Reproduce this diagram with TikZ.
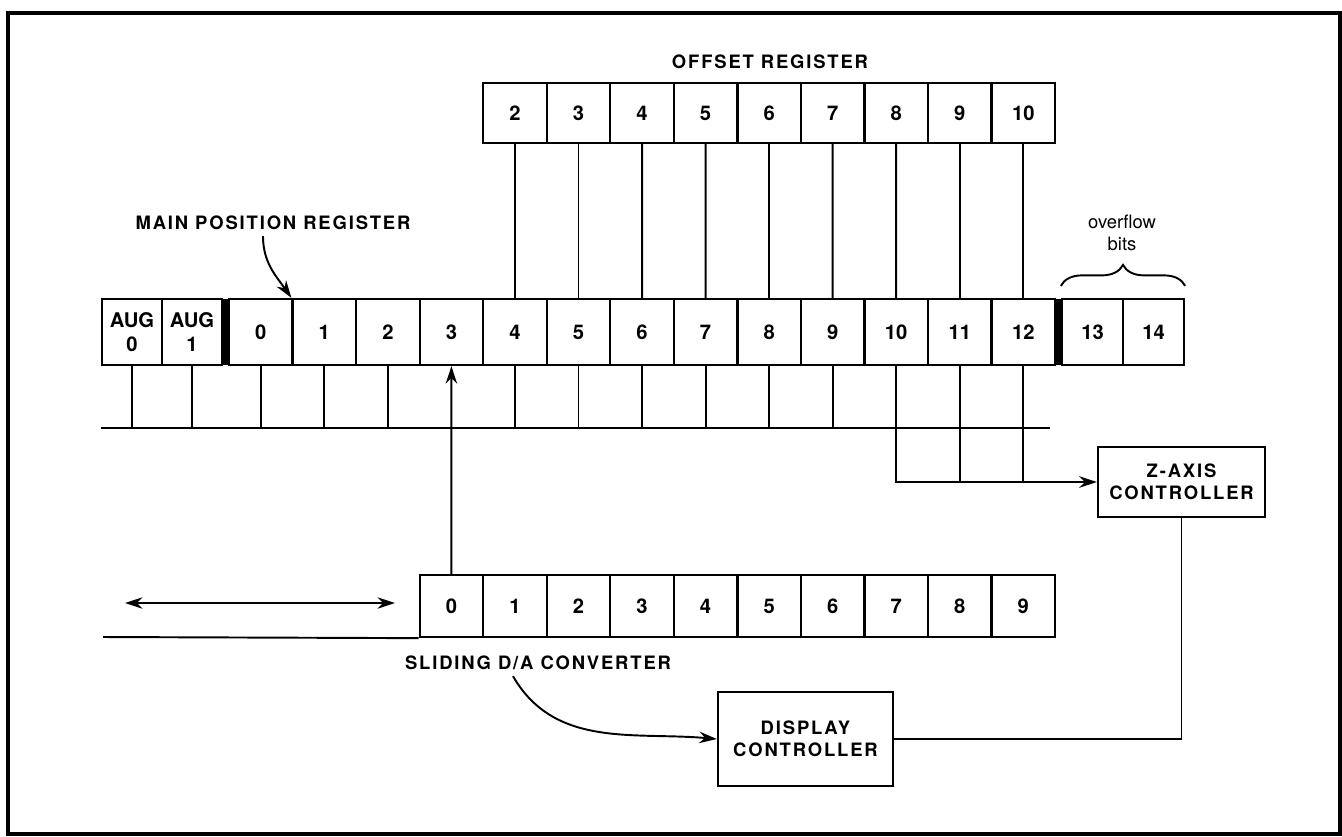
\documentclass[tikz,border=0pt]{standalone}
\usepackage{fontspec}
\setmainfont{TeX Gyre Heros}
\newfontfamily\lblfont[LetterSpace=10]{TeX Gyre Heros}
\usetikzlibrary{arrows.meta, decorations.pathreplacing}
\tikzstyle{bit}=[draw, line width=1.3pt, inner sep=0pt, align=center, minimum width=1.2708cm, font=\fontsize{11.5}{14}\selectfont\bfseries]
\tikzstyle{mainbit}=[bit, minimum height=1.32cm]
\tikzstyle{offbit}=[bit, minimum height=1.2cm]
\tikzstyle{dabit}=[bit, minimum height=1.24cm]
\tikzstyle{ctrl}=[draw, line width=1.3pt, align=center, font=\lblfont\fontsize{10.5}{12.5}\selectfont\bfseries]
\tikzstyle{lbl}=[font=\lblfont\fontsize{10.5}{13}\selectfont\bfseries]
\tikzstyle{wire}=[line width=1.1pt]
\tikzstyle{arr}=[wire, -{Stealth[length=10pt, width=6.5pt]}]

\begin{document}
\begin{tikzpicture}[x=0.02cm, y=-0.02cm]
	\useasboundingbox (0,0) rectangle (1342,836);
	\draw[line width=2pt] (8,13) rectangle (1340,834);

	% Main position register
	\node[mainbit, minimum width=1.2cm] (aug0) at (132,332) {AUG\\0};
	\node[mainbit, minimum width=1.2cm] (aug1) at (192,332) {AUG\\1};
	\fill (222,299) rectangle (229,365);
	\foreach \i in {0,...,12}
		\node[mainbit] (m\i) at (260.8+63.54*\i,332) {\i};
	\fill (1055,299) rectangle (1062,365);
	\node[mainbit, minimum width=1.22cm] (m13) at (1092.5,332) {13};
	\node[mainbit, minimum width=1.22cm] (m14) at (1153.5,332) {14};

	\node[lbl] (mainlbl) at (273,223) {MAIN POSITION REGISTER};
	\draw[arr] ([xshift=-0.2cm]mainlbl.south) to[out=-90, in=125] (m1.north west);

	\draw[wire, decorate, decoration={brace, amplitude=0.42cm}] ([yshift=0.24cm]m13.north west) -- ([yshift=0.24cm]m14.north east);
	\node[font=\fontsize{10.5}{12.5}\selectfont, align=center] (ovf) at (1122,233) {overflow\\bits};

	% Offset register
	\node[lbl] (offlbl) at (770,62) {OFFSET REGISTER};
	\foreach \k in {2,...,10}
		\node[offbit] (o\k) at (387.88+63.54*\k,113) {\k};
	\foreach \k in {2,...,10}{
		\pgfmathtruncatemacro{\j}{\k+2}
		\draw[wire] (o\k.south) -- (m\j.north);
	}

	% Bus below the main register
	\coordinate (busL) at (101,428);
	\coordinate (busR) at (1050,428);
	\draw[wire] (busL) -- (busR);
	\foreach \n in {aug0,aug1,m0,m1,m2,m4,m5,m6,m7,m8,m9}
		\draw[wire] (\n.south) -- (\n.south |- busL);

	% Z-axis
	\node[ctrl, minimum width=3.34cm, minimum height=1.4cm] (zaxis) at (1181.5,482) {Z-AXIS\\CONTROLLER};
	\draw[arr] (m10.south) |- (zaxis.west);
	\foreach \i in {11,12}
		\draw[wire] (m\i.south) -- (m\i.south |- zaxis.west);

	% Sliding D/A converter
	\foreach \k in {0,...,9}
		\node[dabit] (c\k) at (451.42+63.54*\k,606) {\k};
	\draw[arr] (c0.north) -- (m3.south);
	\coordinate (daL) at (103,637);
	\draw[wire] (daL) -- (c0.south west);
	\coordinate (slideL) at (125,603);
	\coordinate (slideR) at (395,603);
	\draw[wire, {Stealth[length=10pt, width=6.5pt]}-{Stealth[length=10pt, width=6.5pt]}] (slideL) -- (slideR);
	\node[lbl] (slidelbl) at (538,663) {SLIDING D/A CONVERTER};

	% Display controller
	\node[ctrl, minimum width=3.5cm, minimum height=1.88cm] (disp) at (805.5,739) {DISPLAY\\CONTROLLER};
	\draw[arr] ([xshift=-0.5cm]slidelbl.south) to[out=-60, in=175] (disp.west);
	\draw[wire] (disp.east) -| (zaxis.south);
\end{tikzpicture}
\end{document}
